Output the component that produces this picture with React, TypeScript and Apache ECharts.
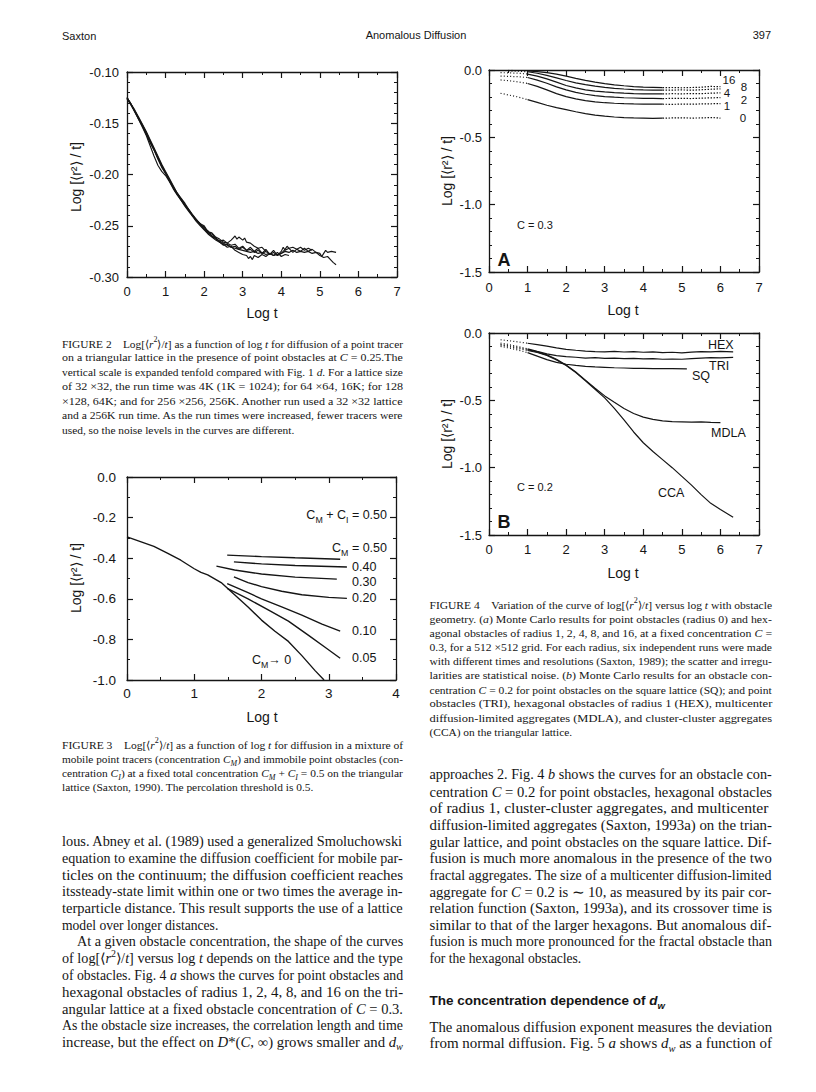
import React, { useEffect, useRef } from 'react';
import * as echarts from 'echarts';

const SANS = '"Liberation Sans", Arial, Helvetica, sans-serif';
const SERIF = '"Liberation Serif", "Times New Roman", serif';
const INK = '#151515';

// ---------------- Figure 2 data (log t, log[<r2>/t]) ----------------
const fig2Run32_4K = [[0,-0.126],[0.1,-0.132],[0.2,-0.139],[0.3,-0.146],[0.4,-0.153],[0.5,-0.161],[0.6,-0.169],[0.7,-0.176],[0.8,-0.185],[0.9,-0.193],[1.0,-0.199],[1.1,-0.206],[1.2,-0.213],[1.3,-0.219],[1.4,-0.224],[1.5,-0.229],[1.6,-0.235],[1.7,-0.240],[1.8,-0.244],[1.9,-0.249],[2.0,-0.251],[2.1,-0.257],[2.2,-0.258],[2.3,-0.262],[2.4,-0.265],[2.5,-0.264],[2.6,-0.267],[2.7,-0.264],[2.75,-0.262],[2.8,-0.260],[2.85,-0.263],[2.9,-0.261],[3.0,-0.264],[3.05,-0.262],[3.1,-0.266],[3.2,-0.267],[3.3,-0.270],[3.4,-0.272],[3.5,-0.271],[3.6,-0.275]];
const fig2Run64_16K = [[0,-0.125],[0.1,-0.131],[0.2,-0.138],[0.3,-0.145],[0.4,-0.152],[0.5,-0.159],[0.6,-0.167],[0.7,-0.175],[0.8,-0.183],[0.9,-0.191],[1.0,-0.198],[1.1,-0.205],[1.2,-0.212],[1.3,-0.218],[1.4,-0.224],[1.5,-0.230],[1.6,-0.234],[1.7,-0.240],[1.8,-0.245],[1.9,-0.248],[2.0,-0.253],[2.1,-0.255],[2.2,-0.260],[2.3,-0.262],[2.4,-0.266],[2.5,-0.268],[2.6,-0.271],[2.7,-0.270],[2.8,-0.274],[2.9,-0.276],[3.0,-0.278],[3.1,-0.279],[3.15,-0.282],[3.2,-0.280],[3.25,-0.283],[3.3,-0.279],[3.4,-0.281],[3.5,-0.278],[3.6,-0.280],[3.7,-0.277],[3.8,-0.279],[3.9,-0.276],[4.0,-0.280],[4.1,-0.278],[4.2,-0.279]];
const fig2Run128_64K = [[0,-0.125],[0.1,-0.131],[0.2,-0.138],[0.3,-0.146],[0.4,-0.154],[0.5,-0.162],[0.6,-0.172],[0.7,-0.182],[0.8,-0.191],[0.9,-0.197],[1.0,-0.201],[1.1,-0.207],[1.2,-0.214],[1.3,-0.220],[1.4,-0.225],[1.5,-0.231],[1.6,-0.236],[1.7,-0.241],[1.8,-0.246],[1.9,-0.250],[2.0,-0.254],[2.1,-0.258],[2.2,-0.261],[2.3,-0.264],[2.4,-0.266],[2.5,-0.269],[2.6,-0.268],[2.7,-0.271],[2.8,-0.270],[2.9,-0.273],[3.0,-0.271],[3.1,-0.274],[3.2,-0.273],[3.3,-0.276],[3.4,-0.274],[3.5,-0.277],[3.6,-0.275],[3.7,-0.278],[3.8,-0.276],[3.9,-0.279],[4.0,-0.277],[4.1,-0.273],[4.15,-0.270],[4.2,-0.272],[4.3,-0.271],[4.4,-0.273],[4.5,-0.271],[4.6,-0.274],[4.7,-0.272],[4.8,-0.274]];
const fig2Run256_256K = [[0,-0.126],[0.1,-0.132],[0.2,-0.138],[0.3,-0.145],[0.4,-0.152],[0.5,-0.160],[0.6,-0.168],[0.7,-0.176],[0.8,-0.184],[0.9,-0.192],[1.0,-0.199],[1.1,-0.206],[1.2,-0.213],[1.3,-0.219],[1.4,-0.225],[1.5,-0.230],[1.6,-0.235],[1.7,-0.240],[1.8,-0.245],[1.9,-0.249],[2.0,-0.253],[2.1,-0.257],[2.2,-0.260],[2.3,-0.263],[2.4,-0.265],[2.5,-0.267],[2.6,-0.269],[2.7,-0.271],[2.8,-0.272],[2.9,-0.273],[3.0,-0.274],[3.1,-0.275],[3.2,-0.276],[3.3,-0.275],[3.4,-0.277],[3.5,-0.276],[3.6,-0.278],[3.7,-0.277],[3.8,-0.279],[3.9,-0.278],[4.0,-0.277],[4.1,-0.275],[4.2,-0.276],[4.3,-0.274],[4.4,-0.276],[4.5,-0.275],[4.6,-0.276],[4.7,-0.275],[4.8,-0.277],[4.9,-0.276],[5.0,-0.279],[5.1,-0.281],[5.2,-0.280],[5.3,-0.284],[5.35,-0.286],[5.42,-0.288]];
const fig2Run32_256K = [[0,-0.125],[0.1,-0.131],[0.2,-0.137],[0.3,-0.144],[0.4,-0.151],[0.5,-0.158],[0.6,-0.166],[0.7,-0.174],[0.8,-0.182],[0.9,-0.190],[1.0,-0.197],[1.1,-0.204],[1.2,-0.211],[1.3,-0.218],[1.4,-0.223],[1.5,-0.228],[1.6,-0.234],[1.7,-0.239],[1.8,-0.244],[1.9,-0.248],[2.0,-0.250],[2.1,-0.256],[2.2,-0.257],[2.3,-0.261],[2.4,-0.263],[2.5,-0.266],[2.6,-0.267],[2.7,-0.269],[2.8,-0.268],[2.9,-0.272],[3.0,-0.270],[3.1,-0.274],[3.2,-0.271],[3.3,-0.275],[3.4,-0.272],[3.5,-0.277],[3.6,-0.273],[3.7,-0.278],[3.8,-0.274],[3.9,-0.279],[4.0,-0.275],[4.05,-0.271],[4.1,-0.274],[4.2,-0.272],[4.3,-0.276],[4.4,-0.273],[4.5,-0.275],[4.6,-0.272],[4.7,-0.275],[4.8,-0.273],[4.9,-0.276],[5.0,-0.277],[5.05,-0.280],[5.1,-0.277],[5.15,-0.274],[5.2,-0.276],[5.3,-0.275],[5.42,-0.276]];

// ---------------- Figure 3 data ----------------
const fig3CM0 = [[0,-0.295],[0.2,-0.318],[0.4,-0.342],[0.6,-0.375],[0.8,-0.41],[1.0,-0.452],[1.1,-0.47],[1.2,-0.482],[1.4,-0.52],[1.6,-0.58],[1.8,-0.64],[2.0,-0.705],[2.2,-0.76],[2.4,-0.81],[2.6,-0.88],[2.8,-0.955],[2.93,-1.0]];
const fig3CM050 = [[1.49,-0.385],[2.0,-0.392],[2.5,-0.398],[3.17,-0.405]];
const fig3CM040 = [[1.59,-0.418],[2.0,-0.428],[2.5,-0.436],[3.27,-0.443]];
const fig3CM030 = [[1.33,-0.439],[1.6,-0.458],[2.0,-0.478],[2.5,-0.493],[3.12,-0.503]];
const fig3CM020 = [[1.59,-0.492],[1.8,-0.52],[2.0,-0.54],[2.3,-0.563],[2.6,-0.58],[3.0,-0.593],[3.27,-0.598]];
const fig3CM010 = [[1.49,-0.525],[1.8,-0.57],[2.0,-0.6],[2.3,-0.64],[2.6,-0.68],[2.9,-0.725],[3.17,-0.759]];
const fig3CM005 = [[1.49,-0.549],[1.8,-0.6],[2.1,-0.655],[2.4,-0.71],[2.7,-0.78],[2.95,-0.84],[3.17,-0.893]];
const fig3Labels = ['0.40', '0.30', '0.20', '0.10', '0.05'];

// ---------------- Figure 4a data (radius of hexagonal obstacles) ----------------
const fig4aR0 = [[0.3,-0.173],[0.5,-0.185],[0.75,-0.2],[1.0,-0.22],[1.25,-0.24],[1.5,-0.262],[1.75,-0.28],[2.0,-0.294],[2.25,-0.31],[2.5,-0.324],[2.75,-0.335],[3.0,-0.343],[3.25,-0.349],[3.5,-0.353],[3.75,-0.356],[4.0,-0.357],[4.25,-0.359],[4.5,-0.358],[4.75,-0.356],[5.0,-0.355],[5.25,-0.357],[5.5,-0.356],[5.75,-0.353],[6.0,-0.357]];
const fig4aR1 = [[0.3,-0.074],[0.5,-0.079],[0.75,-0.088],[1.0,-0.1],[1.25,-0.122],[1.5,-0.148],[1.75,-0.175],[2.0,-0.198],[2.25,-0.215],[2.5,-0.228],[2.75,-0.237],[3.0,-0.243],[3.25,-0.247],[3.5,-0.25],[3.75,-0.252],[4.0,-0.253],[4.25,-0.254],[4.5,-0.254],[4.75,-0.255],[5.0,-0.253],[5.25,-0.254],[5.5,-0.252],[5.75,-0.251],[6.0,-0.249]];
const fig4aR2 = [[0.3,-0.045],[0.5,-0.047],[0.75,-0.05],[1.0,-0.056],[1.25,-0.075],[1.5,-0.098],[1.75,-0.125],[2.0,-0.148],[2.25,-0.166],[2.5,-0.18],[2.75,-0.19],[3.0,-0.197],[3.25,-0.202],[3.5,-0.206],[3.75,-0.208],[4.0,-0.21],[4.25,-0.211],[4.5,-0.212],[4.75,-0.211],[5.0,-0.21],[5.25,-0.212],[5.5,-0.209],[5.75,-0.207],[6.0,-0.205]];
const fig4aR4 = [[0.3,-0.02],[0.5,-0.021],[0.75,-0.024],[1.0,-0.03],[1.25,-0.045],[1.5,-0.066],[1.75,-0.09],[2.0,-0.115],[2.25,-0.133],[2.5,-0.147],[2.75,-0.157],[3.0,-0.163],[3.25,-0.168],[3.5,-0.172],[3.75,-0.175],[4.0,-0.177],[4.25,-0.178],[4.5,-0.178],[4.75,-0.176],[5.0,-0.177],[5.25,-0.175],[5.5,-0.176],[5.75,-0.172],[6.0,-0.17]];
const fig4aR8 = [[0.5,-0.007],[0.75,-0.009],[1.0,-0.013],[1.25,-0.024],[1.5,-0.04],[1.75,-0.058],[2.0,-0.078],[2.25,-0.095],[2.5,-0.108],[2.75,-0.12],[3.0,-0.129],[3.25,-0.136],[3.5,-0.141],[3.75,-0.145],[4.0,-0.148],[4.25,-0.149],[4.5,-0.15],[4.75,-0.149],[5.0,-0.148],[5.25,-0.15],[5.5,-0.147],[5.75,-0.143],[6.0,-0.14]];
const fig4aR16 = [[0.5,-0.003],[0.75,-0.004],[1.0,-0.006],[1.25,-0.012],[1.5,-0.02],[1.75,-0.031],[2.0,-0.046],[2.25,-0.062],[2.5,-0.077],[2.75,-0.09],[3.0,-0.101],[3.25,-0.11],[3.5,-0.117],[3.75,-0.123],[4.0,-0.127],[4.25,-0.129],[4.5,-0.131],[4.75,-0.13],[5.0,-0.132],[5.25,-0.13],[5.5,-0.128],[5.75,-0.122],[6.0,-0.124]];
const fig4aRadiusLabels = ['16', '8', '4', '2', '1', '0'];

// ---------------- Figure 4b data (obstacle geometry) ----------------
const fig4bHEX = [[0.3,-0.05],[0.5,-0.057],[0.75,-0.066],[1.0,-0.076],[1.25,-0.086],[1.5,-0.098],[1.75,-0.11],[2.0,-0.121],[2.25,-0.128],[2.5,-0.134],[2.75,-0.138],[3.0,-0.14],[3.25,-0.137],[3.5,-0.141],[3.75,-0.139],[4.0,-0.143],[4.25,-0.14],[4.5,-0.145],[4.75,-0.143],[5.0,-0.147],[5.25,-0.142],[5.5,-0.138],[5.75,-0.14],[6.0,-0.137],[6.33,-0.14]];
const fig4bTRI = [[0.3,-0.075],[0.5,-0.085],[0.75,-0.1],[1.0,-0.118],[1.25,-0.137],[1.5,-0.155],[1.75,-0.168],[2.0,-0.176],[2.25,-0.18],[2.5,-0.186],[2.75,-0.183],[3.0,-0.189],[3.25,-0.186],[3.5,-0.19],[3.75,-0.188],[4.0,-0.192],[4.25,-0.19],[4.5,-0.195],[4.75,-0.193],[5.0,-0.195],[5.25,-0.19],[5.5,-0.186],[5.75,-0.183],[6.0,-0.185],[6.33,-0.181]];
const fig4bSQ = [[0.3,-0.1],[0.5,-0.11],[0.75,-0.126],[1.0,-0.146],[1.25,-0.172],[1.5,-0.198],[1.75,-0.218],[2.0,-0.232],[2.25,-0.241],[2.5,-0.248],[2.75,-0.252],[3.0,-0.255],[3.25,-0.258],[3.5,-0.26],[3.75,-0.262],[4.0,-0.263],[4.25,-0.264],[4.5,-0.265],[4.75,-0.265],[5.13,-0.266]];
const fig4bMDLA = [[0.3,-0.085],[0.5,-0.094],[0.75,-0.108],[1.0,-0.123],[1.25,-0.14],[1.5,-0.162],[1.75,-0.195],[2.0,-0.238],[2.25,-0.29],[2.5,-0.35],[2.75,-0.41],[3.0,-0.467],[3.25,-0.515],[3.5,-0.56],[3.75,-0.598],[4.0,-0.625],[4.25,-0.642],[4.5,-0.652],[4.75,-0.658],[5.0,-0.66],[5.25,-0.662],[5.5,-0.66],[5.75,-0.663],[6.0,-0.665]];
const fig4bCCA = [[0.3,-0.09],[0.5,-0.1],[0.75,-0.115],[1.0,-0.13],[1.25,-0.145],[1.5,-0.166],[1.75,-0.2],[2.0,-0.242],[2.25,-0.294],[2.5,-0.355],[2.75,-0.418],[3.0,-0.482],[3.25,-0.56],[3.5,-0.645],[3.75,-0.735],[4.0,-0.815],[4.25,-0.88],[4.5,-0.94],[4.75,-1.0],[5.0,-1.065],[5.25,-1.13],[5.5,-1.2],[5.75,-1.265],[6.0,-1.31],[6.33,-1.368]];
const fig4bNames = ['HEX', 'TRI', 'SQ', 'MDLA', 'CCA'];

// ---------------- Texts ----------------
const header = ['Saxton', 'Anomalous Diffusion', '397'];
const yTitle = 'Log [⟨r²⟩ / t]';
const xTitle = 'Log t';

const caption2 = [
  'FIGURE 2\u2002\u2002Log[⟨{i|r}{sup|2}⟩/{i|t}] as a function of log {i|t} for diffusion of a point tracer',
  'on a triangular lattice in the presence of point obstacles at {i|C} = 0.25.The',
  'vertical scale is expanded tenfold compared with Fig. 1 {i|d}. For a lattice size',
  'of 32 ×32, the run time was 4K (1K = 1024); for 64 ×64, 16K; for 128',
  '×128, 64K; and for 256 ×256, 256K. Another run used a 32 ×32 lattice',
  'and a 256K run time. As the run times were increased, fewer tracers were',
  'used, so the noise levels in the curves are different.',
];
const caption3 = [
  'FIGURE 3\u2002\u2002Log[⟨{i|r}{sup|2}⟩/{i|t}] as a function of log {i|t} for diffusion in a mixture of',
  'mobile point tracers (concentration {i|C}{sub|M}) and immobile point obstacles (con-',
  'centration {i|C}{sub|I}) at a fixed total concentration {i|C}{sub|M} + {i|C}{sub|I} = 0.5 on the triangular',
  'lattice (Saxton, 1990). The percolation threshold is 0.5.',
];
const caption4 = [
  'FIGURE 4\u2002\u2002Variation of the curve of log[⟨{i|r}{sup|2}⟩/{i|t}] versus log {i|t} with obstacle',
  'geometry. ({i|a}) Monte Carlo results for point obstacles (radius 0) and hex-',
  'agonal obstacles of radius 1, 2, 4, 8, and 16, at a fixed concentration {i|C} =',
  '0.3, for a 512 ×512 grid. For each radius, six independent runs were made',
  'with different times and resolutions (Saxton, 1989); the scatter and irregu-',
  'larities are statistical noise. ({i|b}) Monte Carlo results for an obstacle con-',
  'centration {i|C} = 0.2 for point obstacles on the square lattice (SQ); and point',
  'obstacles (TRI), hexagonal obstacles of radius 1 (HEX), multicenter',
  'diffusion-limited aggregates (MDLA), and cluster-cluster aggregates',
  '(CCA) on the triangular lattice.',
];
const bodyLeft = [
  'lous. Abney et al. (1989) used a generalized Smoluchowski',
  'equation to examine the diffusion coefficient for mobile par-',
  'ticles on the continuum; the diffusion coefficient reaches',
  'itssteady-state limit within one or two times the average in-',
  'terparticle distance. This result supports the use of a lattice',
  'model over longer distances.',
  'At a given obstacle concentration, the shape of the curves',
  'of log[⟨{i|r}{sup|2}⟩/{i|t}] versus log {i|t} depends on the lattice and the type',
  'of obstacles. Fig. 4 {i|a} shows the curves for point obstacles and',
  'hexagonal obstacles of radius 1, 2, 4, 8, and 16 on the tri-',
  'angular lattice at a fixed obstacle concentration of {i|C} = 0.3.',
  'As the obstacle size increases, the correlation length and time',
  'increase, but the effect on {i|D}*({i|C}, ∞) grows smaller and {i|d}{sub|w}',
];
const bodyRight = [
  'approaches 2. Fig. 4 {i|b} shows the curves for an obstacle con-',
  'centration {i|C} = 0.2 for point obstacles, hexagonal obstacles',
  'of radius 1, cluster-cluster aggregates, and multicenter',
  'diffusion-limited aggregates (Saxton, 1993a) on the trian-',
  'gular lattice, and point obstacles on the square lattice. Dif-',
  'fusion is much more anomalous in the presence of the two',
  'fractal aggregates. The size of a multicenter diffusion-limited',
  'aggregate for {i|C} = 0.2 is ∼ 10, as measured by its pair cor-',
  'relation function (Saxton, 1993a), and its crossover time is',
  'similar to that of the larger hexagons. But anomalous dif-',
  'fusion is much more pronounced for the fractal obstacle than',
  'for the hexagonal obstacles.',
];
const sectionHeading = 'The concentration dependence of {i|d}{sub|w}';
const bodyRight2 = [
  'The anomalous diffusion exponent measures the deviation',
  'from normal diffusion. Fig. 5 {i|a} shows {i|d}{sub|w} as a function of',
];

// ---------------- helpers ----------------
function richFor(size: number, family: string, weight = 'normal', lh = size * 1.45) {
  const small = Math.round(size * 0.7 * 10) / 10;
  return {
    i: { fontFamily: family, fontSize: size, fontStyle: 'italic', fontWeight: weight, fill: INK, lineHeight: lh },
    sup: { fontFamily: family, fontSize: small, fontWeight: weight, lineHeight: small, verticalAlign: 'top', fill: INK },
    sub: { fontFamily: family, fontSize: small, fontStyle: 'italic', fontWeight: weight, lineHeight: small, verticalAlign: 'bottom', fill: INK },
    s: { fontFamily: family, fontSize: small, fontWeight: weight, lineHeight: small, verticalAlign: 'bottom', fill: INK },
  };
}

let measureCtx: CanvasRenderingContext2D | null = null;
function naturalWidth(s: string, size: number, family: string, weight = 'normal') {
  if (!measureCtx) measureCtx = document.createElement('canvas').getContext('2d');
  const ctx = measureCtx!;
  let w = 0;
  const add = (t: string, st: string) => {
    let sz = size;
    let it = false;
    if (st === 'i') it = true;
    if (st === 'sup' || st === 's') sz = size * 0.7;
    if (st === 'sub') { sz = size * 0.7; it = true; }
    ctx.font = `${it ? 'italic ' : ''}${weight} ${sz}px ${family}`;
    w += ctx.measureText(t).width;
  };
  const re = /\{(\w+)\|([^}]*)\}/g;
  let last = 0;
  let m: RegExpExecArray | null;
  while ((m = re.exec(s))) {
    if (m.index > last) add(s.slice(last, m.index), '');
    add(m[2], m[1]);
    last = re.lastIndex;
  }
  if (last < s.length) add(s.slice(last), '');
  return w;
}

function textBlock(lines: string[], x: number, y0: number, lh: number, width: number, size: number, noJustify: number[], indents: Record<number, number> = {}) {
  return lines.map((s, k) => {
    const ind = indents[k] || 0;
    let sx = 1;
    if (noJustify.indexOf(k) < 0) {
      const nat = naturalWidth(s, size, SERIF);
      sx = Math.min(1.15, Math.max(0.85, (width - ind) / nat));
    }
    return {
      type: 'text', x: x + ind, y: y0 + k * lh, scaleX: sx, silent: true,
      style: {
        text: s, fontSize: size, fontFamily: SERIF, fill: INK, align: 'left', verticalAlign: 'middle',
        lineHeight: size * 1.45, rich: richFor(size, SERIF),
      },
    };
  });
}

function label(x: number, y: number, text: string, o: any = {}) {
  const size = o.size || 13;
  const hasRich = text.indexOf('{') >= 0;
  const style: any = {
    text, fontSize: size, fontFamily: o.family || SANS, fontWeight: o.weight || 'normal', fill: INK,
    align: o.align || 'center', verticalAlign: 'middle',
  };
  if (hasRich) {
    style.lineHeight = size * 1.45;
    style.rich = richFor(size, o.family || SANS, o.weight || 'normal', size * 1.45);
  }
  return { type: 'text', x, y, rotation: o.rotation || 0, silent: true, style };
}

const grids = [
  { left: 127, top: 72, width: 270, height: 205 },
  { left: 127, top: 477, width: 269, height: 203 },
  { left: 489, top: 70, width: 270, height: 202 },
  { left: 489, top: 333, width: 270, height: 202 },
];
const axesSpec = [
  { xMin: 0, xMax: 7, xInt: 1, xMinor: 2, yMin: -0.3, yMax: -0.1, yInt: 0.05, yMinor: 5, digits: 2, xMargin: 8, yMargin: 8, font: 13 },
  { xMin: 0, xMax: 4, xInt: 1, xMinor: 2, yMin: -1, yMax: 0, yInt: 0.2, yMinor: 2, digits: 1, xMargin: 6, yMargin: 11, font: 13.5 },
  { xMin: 0, xMax: 7, xInt: 1, xMinor: 2, yMin: -1.5, yMax: 0, yInt: 0.5, yMinor: 5, digits: 1, xMargin: 9, yMargin: 7, font: 13 },
  { xMin: 0, xMax: 7, xInt: 1, xMinor: 2, yMin: -1.5, yMax: 0, yInt: 0.5, yMinor: 5, digits: 1, xMargin: 8, yMargin: 7, font: 13 },
];

function buildAxes() {
  const xAxis: any[] = [];
  const yAxis: any[] = [];
  axesSpec.forEach((a, g) => {
    const common = (show: boolean, margin: number, fmt: (v: number) => string) => ({
      type: 'value', gridIndex: g,
      axisLine: { show: true, onZero: false, lineStyle: { color: INK, width: 1.3 } },
      axisTick: { show: true, inside: true, length: 6, lineStyle: { color: INK, width: 1.2 } },
      minorTick: { show: true, length: 3, lineStyle: { color: INK, width: 1 } },
      splitLine: { show: false },
      minorSplitLine: { show: false },
      axisLabel: { show, margin, color: INK, fontSize: a.font, fontFamily: SANS, formatter: fmt, showMinLabel: true, showMaxLabel: true },
    });
    const xf = (v: number) => String(Math.round(v));
    const yf = (v: number) => { const s = v.toFixed(a.digits); return /^-0\.0+$/.test(s) ? s.slice(1) : s; };
    ['bottom', 'top'].forEach((pos, k) => {
      const c: any = common(k === 0, a.xMargin, xf);
      c.minorTick.splitNumber = a.xMinor;
      xAxis.push({ ...c, position: pos, min: a.xMin, max: a.xMax, interval: a.xInt });
    });
    ['left', 'right'].forEach((pos, k) => {
      const c: any = common(k === 0, a.yMargin, yf);
      c.minorTick.splitNumber = a.yMinor;
      yAxis.push({ ...c, position: pos, min: a.yMin, max: a.yMax, interval: a.yInt });
    });
  });
  return { xAxis, yAxis };
}

function lineSeries(data: number[][], g: number, width = 1.2, type: any = 'solid') {
  return {
    type: 'line', xAxisIndex: 2 * g, yAxisIndex: 2 * g, data, showSymbol: false, symbol: 'none',
    silent: true, smooth: false, z: 3,
    lineStyle: { color: INK, width, type },
  };
}
const within = (arr: number[][], lo: number, hi: number) => arr.filter((p) => p[0] >= lo && p[0] <= hi);

function buildOption() {
  const { xAxis, yAxis } = buildAxes();
  const series: any[] = [];
  [fig2Run32_4K, fig2Run64_16K, fig2Run128_64K, fig2Run256_256K, fig2Run32_256K].forEach((d) => series.push(lineSeries(d, 0, 1.15)));
  [fig3CM0, fig3CM050, fig3CM040, fig3CM030, fig3CM020, fig3CM010, fig3CM005].forEach((d) => series.push(lineSeries(d, 1, 1.4)));
  const dots = [1, 2.2];
  [fig4aR16, fig4aR8, fig4aR4, fig4aR2, fig4aR1, fig4aR0].forEach((d) => {
    series.push(lineSeries(within(d, 0, 1.0), 2, 1.2, dots));
    series.push(lineSeries(within(d, 1.0, 4.5), 2, 1.2));
    series.push(lineSeries(within(d, 4.5, 6.1), 2, 1.2, [1.5, 1.5]));
  });
  [fig4bHEX, fig4bTRI, fig4bSQ, fig4bMDLA, fig4bCCA].forEach((d) => {
    series.push(lineSeries(within(d, 0, 1.0), 3, 1.2, dots));
    series.push(lineSeries(within(d, 1.0, 7), 3, 1.2));
  });

  const g: any[] = [];
  // running header
  g.push(label(62, 36, header[0], { size: 11, align: 'left' }));
  g.push(label(416, 35, header[1], { size: 11 }));
  g.push(label(771, 35, header[2], { size: 11, align: 'right' }));

  // axis titles
  const titlePos = [
    { xx: 262, xy: 313, yx: 76, yy: 177 },
    { xx: 262, xy: 717, yx: 76, yy: 578 },
    { xx: 623, xy: 310, yx: 447, yy: 171 },
    { xx: 623, xy: 573, yx: 447, yy: 434 },
  ];
  titlePos.forEach((p) => {
    g.push(label(p.xx, p.xy, xTitle, { size: 14 }));
    g.push(label(p.yx, p.yy, yTitle, { size: 14, rotation: Math.PI / 2 }));
  });

  // Figure 3 annotations
  g.push(label(387, 515, 'C{s|M} + C{s|I} = 0.50', { size: 12.5, align: 'right' }));
  g.push(label(387, 548, 'C{s|M} = 0.50', { size: 12.5, align: 'right' }));
  const f3y = [567, 582, 598, 631, 658];
  fig3Labels.forEach((t, k) => g.push(label(352, f3y[k], t, { size: 12.5, align: 'left' })));
  g.push(label(252, 660, 'C{s|M}→ 0', { size: 12.5, align: 'left' }));

  // Figure 4a annotations (two staggered columns, as in the original)
  const f4aPos = [[729, 79.5], [744, 86.5], [727, 93], [744, 99.5], [727, 105.8], [743, 118]];
  fig4aRadiusLabels.forEach((t, k) => g.push(label(f4aPos[k][0], f4aPos[k][1], t, { size: 11.5 })));
  g.push(label(517, 225, 'C = 0.3', { size: 11, align: 'left' }));
  g.push(label(504, 260, 'A', { size: 18, weight: 'bold' }));

  // Figure 4b annotations
  const f4bPos = [[708, 345], [709, 366], [692, 376], [711, 433], [658, 493]];
  fig4bNames.forEach((t, k) => g.push(label(f4bPos[k][0], f4bPos[k][1], t, { size: 12.5, align: 'left' })));
  g.push(label(517, 487, 'C = 0.2', { size: 11, align: 'left' }));
  g.push(label(504, 521.5, 'B', { size: 18, weight: 'bold' }));

  // captions and body text
  g.push(...textBlock(caption2, 62, 343.5, 14.4, 341, 11.4, [6]));
  g.push(...textBlock(caption3, 62, 745, 14.1, 341, 11.4, [3]));
  g.push(...textBlock(caption4, 429.5, 605, 14.1, 342.5, 11.4, [9]));
  g.push(...textBlock(bodyLeft, 62, 841.7, 16.7, 341, 13.6, [5], { 6: 15 }));
  g.push(...textBlock(bodyRight, 429.5, 775, 16.7, 342.5, 13.6, [11]));
  g.push(label(429.5, 1000.7, sectionHeading, { size: 13.5, weight: 'bold', align: 'left' }));
  g.push(...textBlock(bodyRight2, 429.5, 1026.7, 16.7, 342.5, 13.6, []));

  return {
    animation: false,
    backgroundColor: '#ffffff',
    textStyle: { fontFamily: SANS },
    grid: grids.map((gr) => ({ ...gr, containLabel: false, outerBoundsMode: 'none', show: false })),
    xAxis, yAxis, series,
    graphic: { elements: g },
  };
}

export default function App() {
  const ref = useRef<HTMLDivElement>(null);
  useEffect(() => {
    if (!ref.current) return;
    const chart = echarts.init(ref.current, null, { renderer: 'svg', width: 816, height: 1092 });
    chart.setOption(buildOption() as any);
    return () => chart.dispose();
  }, []);
  return (
    <div
      ref={ref}
      style={{ position: 'absolute', left: 0, top: 0, width: 816, height: 1092, background: '#ffffff' }}
    />
  );
}
